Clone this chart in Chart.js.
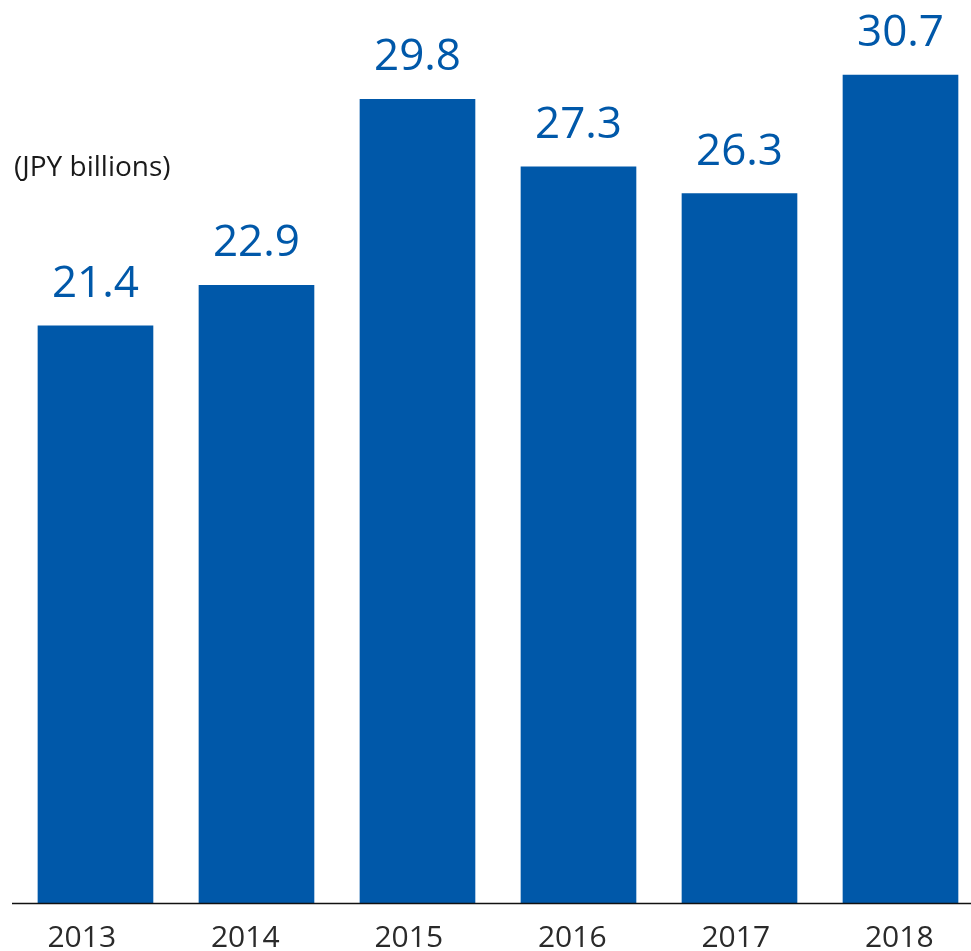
<!DOCTYPE html>
<html>
<head>
<meta charset="utf-8">
<script src="https://cdn.jsdelivr.net/npm/chart.js@4"></script>
<style>
  html, body { margin: 0; padding: 0; background: #fff; overflow: hidden; }
  #wrap { width: 990px; height: 951px; position: relative; }
</style>
</head>
<body>
<div id="wrap"><canvas id="chart"></canvas></div>
<script>
const years = ['2013', '2014', '2015', '2016', '2017', '2018'];
const amounts = [21.4, 22.9, 29.8, 27.3, 26.3, 30.7];
const unitLabel = '(JPY billions)';

const BLUE = '#0058a9';
const FONT = '"Open Sans", "Noto Sans", sans-serif';

// value above each bar, unit caption and the baseline over the bars
const overlay = {
  id: 'overlay',
  afterDatasetsDraw(chart) {
    const { ctx, scales } = chart;
    const meta = chart.getDatasetMeta(0);
    ctx.save();
    ctx.fillStyle = BLUE;
    ctx.font = `44px ${FONT}`;
    ctx.textAlign = 'center';
    ctx.textBaseline = 'alphabetic';
    meta.data.forEach((bar, i) => {
      ctx.fillText(amounts[i].toFixed(1), bar.x, bar.y - 29);
    });

    ctx.fillStyle = '#1a1a1a';
    ctx.font = `28px ${FONT}`;
    ctx.textAlign = 'left';
    ctx.fillText(unitLabel, 14, 176);

    const y0 = Math.round(scales.y.getPixelForValue(0)) + 0.5;
    ctx.strokeStyle = '#111';
    ctx.lineWidth = 1.5;
    ctx.beginPath();
    ctx.moveTo(12, y0);
    ctx.lineTo(971, y0);
    ctx.stroke();
    ctx.restore();
  }
};

new Chart(document.getElementById('chart'), {
  type: 'bar',
  data: {
    labels: years,
    datasets: [{
      data: amounts.map((v, i) => ({ x: i, y: v })),
      xAxisID: 'x',
      backgroundColor: BLUE,
      borderWidth: 0,
      barThickness: 115
    }]
  },
  options: {
    responsive: true,
    maintainAspectRatio: false,
    animation: false,
    layout: { padding: { left: 0, right: 9, top: 13, bottom: 0 } },
    plugins: {
      legend: { display: false },
      tooltip: { enabled: false }
    },
    scales: {
      // bar positions (index per year)
      x: {
        type: 'linear',
        display: false,
        offset: false,
        min: -0.593,
        max: 5.5
      },
      // year labels under the bars
      years: {
        type: 'category',
        position: 'bottom',
        labels: years,
        offset: true,
        grid: { display: false, drawTicks: false },
        border: { display: false },
        ticks: { color: '#2a2a2a', font: { family: FONT, size: 30 }, padding: 14 },
        afterFit: (scale) => { scale.height = 45; }
      },
      y: {
        display: false,
        min: -0.11,
        max: 33
      }
    }
  },
  plugins: [overlay]
});
</script>
</body>
</html>
